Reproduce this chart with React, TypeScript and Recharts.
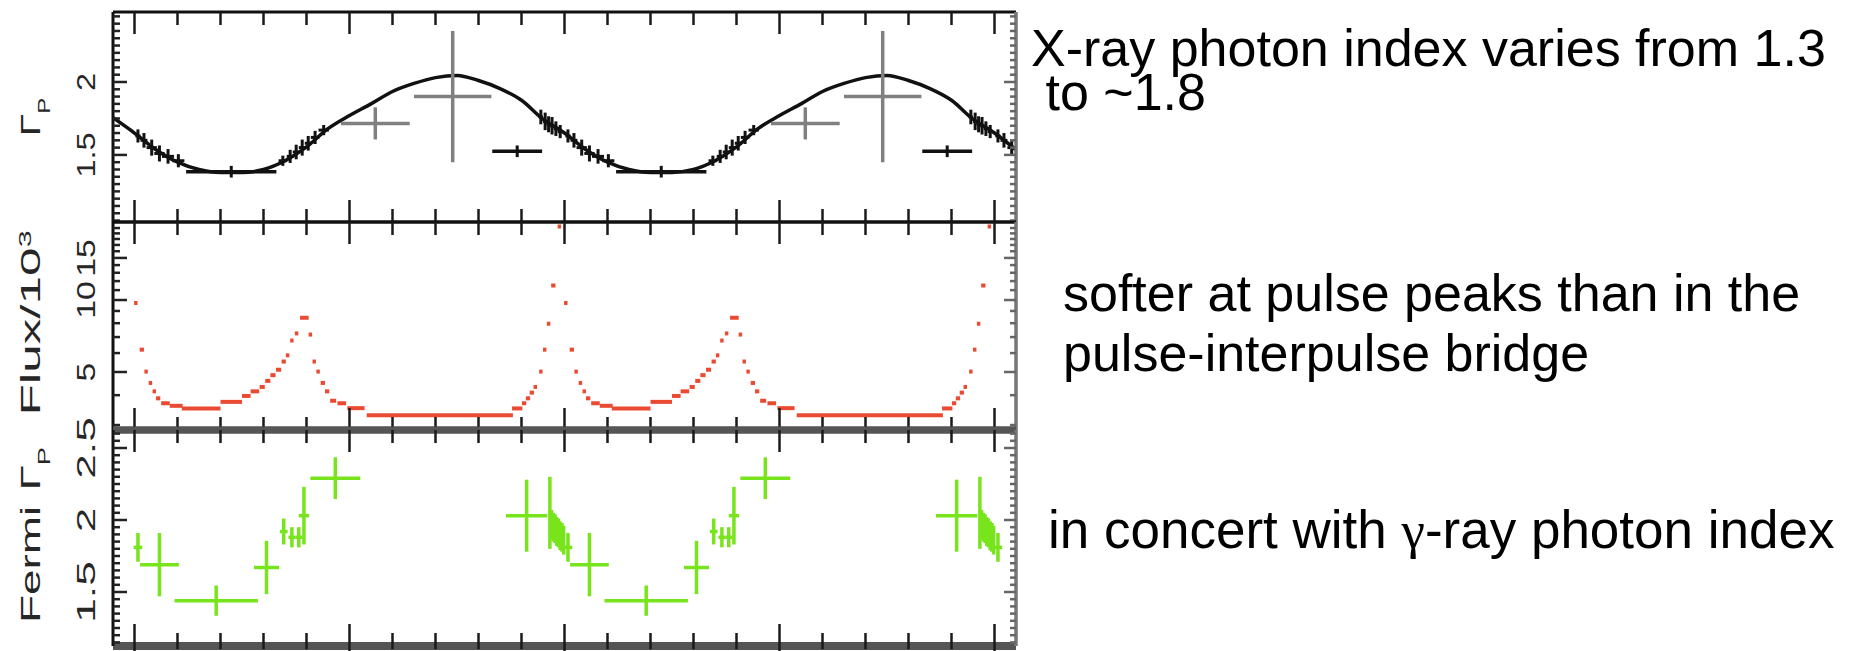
import React from 'react';
import { ComposedChart, Line, Scatter, XAxis, YAxis, ErrorBar } from 'recharts';

// ---------- data ----------
// pulse phase ticks (minor every 0.1, major every 0.5)
const PHASE_TICKS = [0, 0.1, 0.2, 0.3, 0.4, 0.5, 0.6, 0.7, 0.8, 0.9, 1.0, 1.1, 1.2, 1.3, 1.4, 1.5, 1.6, 1.7, 1.8, 1.9, 2.0];
const PHASE_DOMAIN: [number, number] = [-0.05, 2.05];

// X-ray photon index model curve: [phase, index]
const xrayCurve: [number, number][] = [
  [-0.05, 1.755], [0.0, 1.65], [0.05, 1.535], [0.1, 1.45], [0.15, 1.4], [0.2, 1.38], [0.25, 1.38], [0.3, 1.4],
  [0.35, 1.46], [0.4, 1.555], [0.45, 1.68], [0.5, 1.77], [0.55, 1.85], [0.6, 1.935], [0.65, 1.99], [0.7, 2.03],
  [0.75, 2.045], [0.8, 2.01], [0.85, 1.955], [0.9, 1.875], [0.95, 1.745], [1.0, 1.65], [1.05, 1.535], [1.1, 1.45],
  [1.15, 1.4], [1.2, 1.38], [1.25, 1.38], [1.3, 1.4], [1.35, 1.46], [1.4, 1.555], [1.45, 1.68], [1.5, 1.77],
  [1.55, 1.85], [1.6, 1.935], [1.65, 1.99], [1.7, 2.03], [1.75, 2.045], [1.8, 2.01], [1.85, 1.955], [1.9, 1.875],
  [1.95, 1.745], [2.0, 1.65], [2.05, 1.535],
];

// X-ray photon index, fine phase bins: [phase, index, phase half-width, index error]
const xrayFine: [number, number, number, number][] = [
  [0.008, 1.63, 0.006, 0.045], [0.022, 1.6, 0.008, 0.05], [0.04, 1.55, 0.012, 0.055], [0.058, 1.51, 0.012, 0.055],
  [0.078, 1.49, 0.014, 0.05], [0.102, 1.46, 0.014, 0.045],
  [0.345, 1.46, 0.01, 0.035], [0.362, 1.49, 0.008, 0.045], [0.376, 1.52, 0.008, 0.05], [0.39, 1.55, 0.008, 0.055],
  [0.404, 1.58, 0.008, 0.05], [0.42, 1.62, 0.01, 0.045], [0.44, 1.67, 0.012, 0.035],
  [0.945, 1.76, 0.005, 0.05], [0.955, 1.73, 0.005, 0.06], [0.963, 1.71, 0.005, 0.055], [0.971, 1.7, 0.005, 0.06],
  [0.98, 1.68, 0.005, 0.05], [0.99, 1.66, 0.006, 0.045],
  [1.008, 1.63, 0.006, 0.045], [1.022, 1.6, 0.008, 0.05], [1.04, 1.55, 0.012, 0.055], [1.058, 1.51, 0.012, 0.055],
  [1.078, 1.49, 0.014, 0.05], [1.102, 1.46, 0.014, 0.045],
  [1.345, 1.46, 0.01, 0.035], [1.362, 1.49, 0.008, 0.045], [1.376, 1.52, 0.008, 0.05], [1.39, 1.55, 0.008, 0.055],
  [1.404, 1.58, 0.008, 0.05], [1.42, 1.62, 0.01, 0.045], [1.44, 1.67, 0.012, 0.035],
  [1.945, 1.76, 0.005, 0.05], [1.955, 1.73, 0.005, 0.06], [1.963, 1.71, 0.005, 0.055], [1.971, 1.7, 0.005, 0.06],
  [1.98, 1.68, 0.005, 0.05], [1.99, 1.66, 0.006, 0.045],
  [2.008, 1.63, 0.006, 0.045], [2.022, 1.6, 0.008, 0.05], [2.04, 1.55, 0.01, 0.055],
];

// X-ray photon index, wide off-pulse bins (black)
const xrayWide: [number, number, number, number][] = [
  [0.225, 1.385, 0.105, 0.04], [0.89, 1.525, 0.058, 0.04],
  [1.225, 1.385, 0.105, 0.04], [1.89, 1.525, 0.058, 0.04],
];

// X-ray photon index, low-significance bins (grey)
const xrayFaint: [number, number, number, number][] = [
  [0.56, 1.716, 0.08, 0.11], [0.74, 1.9, 0.09, 0.45],
  [1.56, 1.716, 0.08, 0.11], [1.74, 1.9, 0.09, 0.45],
];

// pulse profile, Flux/10^3: [phase, flux, phase half-width]
const fluxBins: [number, number, number][] = [
  [0.003, 9.72, 0.004], [0.017, 6.2, 0.005], [0.027, 5.02, 0.004], [0.037, 4.5, 0.004], [0.046, 4.15, 0.004],
  [0.055, 3.88, 0.005], [0.072, 3.7, 0.01], [0.097, 3.61, 0.015], [0.155, 3.52, 0.045], [0.225, 3.75, 0.025],
  [0.26, 3.97, 0.01], [0.28, 4.15, 0.01], [0.297, 4.33, 0.006], [0.31, 4.59, 0.006], [0.322, 4.85, 0.006],
  [0.335, 5.11, 0.006], [0.347, 5.53, 0.005], [0.356, 5.87, 0.004], [0.366, 6.77, 0.004], [0.377, 7.25, 0.004],
  [0.395, 8.43, 0.01], [0.409, 7.17, 0.004], [0.418, 5.53, 0.004], [0.427, 5.02, 0.004], [0.438, 4.5, 0.005],
  [0.448, 4.15, 0.005], [0.462, 3.79, 0.007], [0.482, 3.7, 0.01], [0.515, 3.53, 0.02], [0.71, 3.3, 0.17],
  [0.89, 3.52, 0.012], [0.906, 3.7, 0.005], [0.915, 3.88, 0.005], [0.924, 4.1, 0.005], [0.932, 4.33, 0.004],
  [0.945, 5.02, 0.004], [0.954, 6.2, 0.004], [0.963, 7.96, 0.004], [0.974, 11.5, 0.005], [0.988, 20.3, 0.004],
  [1.003, 9.72, 0.004], [1.017, 6.2, 0.005], [1.027, 5.02, 0.004], [1.037, 4.5, 0.004], [1.046, 4.15, 0.004],
  [1.055, 3.88, 0.005], [1.072, 3.7, 0.01], [1.097, 3.61, 0.015], [1.155, 3.52, 0.045], [1.225, 3.75, 0.025],
  [1.26, 3.97, 0.01], [1.28, 4.15, 0.01], [1.297, 4.33, 0.006], [1.31, 4.59, 0.006], [1.322, 4.85, 0.006],
  [1.335, 5.11, 0.006], [1.347, 5.53, 0.005], [1.356, 5.87, 0.004], [1.366, 6.77, 0.004], [1.377, 7.25, 0.004],
  [1.395, 8.43, 0.01], [1.409, 7.17, 0.004], [1.418, 5.53, 0.004], [1.427, 5.02, 0.004], [1.438, 4.5, 0.005],
  [1.448, 4.15, 0.005], [1.462, 3.79, 0.007], [1.482, 3.7, 0.01], [1.515, 3.53, 0.02], [1.71, 3.3, 0.17],
  [1.89, 3.52, 0.012], [1.906, 3.7, 0.005], [1.915, 3.88, 0.005], [1.924, 4.1, 0.005], [1.932, 4.33, 0.004],
  [1.945, 5.02, 0.004], [1.954, 6.2, 0.004], [1.963, 7.96, 0.004], [1.974, 11.5, 0.005], [1.988, 20.3, 0.004],
];

// Fermi gamma-ray photon index: [phase, index, phase half-width, index error]
const fermiIndex: [number, number, number, number][] = [
  [0.008, 1.81, 0.01, 0.1], [0.058, 1.69, 0.045, 0.22], [0.19, 1.44, 0.097, 0.105], [0.307, 1.67, 0.029, 0.185],
  [0.347, 1.92, 0.009, 0.09], [0.366, 1.88, 0.008, 0.07], [0.382, 1.88, 0.008, 0.07], [0.394, 2.03, 0.012, 0.2],
  [0.467, 2.29, 0.058, 0.145], [0.912, 2.03, 0.048, 0.25], [0.966, 2.05, 0.004, 0.25],
  [0.97, 1.97, 0.002, 0.1], [0.974, 1.95, 0.002, 0.1], [0.978, 1.94, 0.002, 0.1], [0.982, 1.92, 0.002, 0.1],
  [0.986, 1.91, 0.002, 0.1], [0.99, 1.89, 0.002, 0.1], [0.994, 1.88, 0.002, 0.1], [0.998, 1.86, 0.002, 0.1],
  [1.008, 1.81, 0.01, 0.1], [1.058, 1.69, 0.045, 0.22], [1.19, 1.44, 0.097, 0.105], [1.307, 1.67, 0.029, 0.185],
  [1.347, 1.92, 0.009, 0.09], [1.366, 1.88, 0.008, 0.07], [1.382, 1.88, 0.008, 0.07], [1.394, 2.03, 0.012, 0.2],
  [1.467, 2.29, 0.058, 0.145], [1.912, 2.03, 0.048, 0.25], [1.966, 2.05, 0.004, 0.25],
  [1.97, 1.97, 0.002, 0.1], [1.974, 1.95, 0.002, 0.1], [1.978, 1.94, 0.002, 0.1], [1.982, 1.92, 0.002, 0.1],
  [1.986, 1.91, 0.002, 0.1], [1.99, 1.89, 0.002, 0.1], [1.994, 1.88, 0.002, 0.1], [1.998, 1.86, 0.002, 0.1],
  [2.008, 1.81, 0.01, 0.1],
];

// y-axis ticks and labels for each panel
const XRAY_DOMAIN: [number, number] = [1.04, 2.48];
const XRAY_TICKS = [1.05, 1.1, 1.15, 1.2, 1.25, 1.3, 1.35, 1.4, 1.45, 1.5, 1.55, 1.6, 1.65, 1.7, 1.75, 1.8, 1.85, 1.9, 1.95, 2, 2.05, 2.1, 2.15, 2.2, 2.25, 2.3, 2.35, 2.4, 2.45];
const XRAY_LABELS = [1.5, 2];

const FLUX_DOMAIN: [number, number] = [2.86, 21.2];
const FLUX_TICKS = [3, 4, 5, 6, 7, 8, 9, 10, 11, 12, 13, 14, 15, 16, 17, 18, 19, 20];
const FLUX_LABELS = [5, 10, 15];

const FERMI_DOMAIN: [number, number] = [1.125, 2.625];
const FERMI_TICKS = [1.15, 1.2, 1.25, 1.3, 1.35, 1.4, 1.45, 1.5, 1.55, 1.6, 1.65, 1.7, 1.75, 1.8, 1.85, 1.9, 1.95, 2, 2.05, 2.1, 2.15, 2.2, 2.25, 2.3, 2.35, 2.4, 2.45, 2.5, 2.55, 2.6];
const FERMI_LABELS = [1.5, 2, 2.5];

// side notes
const NOTE_XRAY = 'X-ray photon index varies from 1.3\n to ~1.8';
const NOTE_FLUX = 'softer at pulse peaks than in the\npulse-interpulse bridge';
const NOTE_FERMI_A = 'in concert with ';
const NOTE_FERMI_GAMMA = 'γ';
const NOTE_FERMI_B = '-ray photon index';

// ---------- layout ----------
const W = 1859;
const H = 651;
const PLOT_LEFT = 113;
const PLOT_RIGHT = 1016;
const AXIS_SIZE = 1;
const FONT = '"Liberation Sans", Arial, Helvetica, sans-serif';
const TICK_LABEL_X = 95; // baseline of the rotated tick labels
const TITLE_X = 39.5; // baseline of the rotated axis titles

const toErr = (rows: [number, number, number, number][]) => rows.map(([x, y, ex, ey]) => ({ x, y, ex, ey }));
const curveRows = xrayCurve.map(([x, y]) => ({ x, y }));
const fineRows = toErr(xrayFine);
const wideRows = toErr(xrayWide);
const faintRows = toErr(xrayFaint);
const fluxRows = fluxBins.map(([x, y, ex]) => ({ x, y, ex }));
const fermiRows = toErr(fermiIndex);

const near = (a: number, b: number) => Math.abs(a - b) < 1e-6;

// phase tick marks along a horizontal border; dirs: -1 = up, +1 = down (fractions shorten)
const phaseTick = (dirs: number[], color: string) => (props: any) => {
  const { x, y, payload } = props;
  const v = payload.value as number;
  const major = near(v * 2, Math.round(v * 2));
  const len = major ? 22 : 13;
  return (
    <g>
      {dirs.map((d, i) => (
        <line key={i} x1={x} x2={x} y1={y} y2={y + d * len} stroke={color} strokeWidth={2.5} />
      ))}
    </g>
  );
};

// rotated text, stretched along its reading direction
const rotated = (tx: number, cy: number, stretch: number, fontSize: number, children: React.ReactNode) => (
  <text
    x={0}
    y={0}
    transform={`translate(${tx} ${cy}) rotate(-90) scale(${stretch} 1)`}
    textAnchor="middle"
    fontFamily={FONT}
    fontSize={fontSize}
    fill="#262626"
  >
    {children}
  </text>
);

// left value ticks (pointing into the plot) with rotated labels
const leftTick = (labels: number[], stretch: number) => (props: any) => {
  const { x, y, payload } = props;
  const v = payload.value as number;
  const labelled = labels.some((l) => near(l, v));
  const len = labelled ? 14 : 7;
  return (
    <g>
      <line x1={x} x2={x + len} y1={y} y2={y} stroke="#222" strokeWidth={2.5} />
      {labelled && rotated(TICK_LABEL_X, y, stretch, 26, String(v))}
    </g>
  );
};

// right value ticks (pointing into the plot)
const rightTick = (labels: number[]) => (props: any) => {
  const { x, y, payload } = props;
  const v = payload.value as number;
  const labelled = labels.some((l) => near(l, v));
  const len = labelled ? 12 : 6;
  return <line x1={x} x2={x - len} y1={y} y2={y} stroke="#666" strokeWidth={2.5} />;
};

// rotated axis title: optional leading word, a main symbol and a sub- or superscript
const axisTitle = (lead: string, main: string, script: string, sup: boolean, cy: number, stretch: number) => () =>
  rotated(
    TITLE_X,
    cy,
    stretch,
    27,
    <>
      {lead && <tspan>{lead}</tspan>}
      <tspan dx={lead ? 9 : 0}>{main}</tspan>
      <tspan fontSize={16} dy={sup ? -9 : 10.5}>{script}</tspan>
    </>
  );

const none = () => <g />;

type PanelProps = { top: number; bottom: number };
const margins = ({ top, bottom }: PanelProps) => ({
  top: top - AXIS_SIZE,
  bottom: H - bottom - AXIS_SIZE,
  left: PLOT_LEFT - AXIS_SIZE,
  right: W - PLOT_RIGHT - AXIS_SIZE,
});

const phaseAxes = (topColor: string, topWidth: number, botColor: string, botWidth: number, topDirs: number[], botDirs: number[]) => [
  <XAxis
    key="b"
    xAxisId="b"
    type="number"
    dataKey="x"
    orientation="bottom"
    domain={PHASE_DOMAIN}
    allowDataOverflow
    ticks={PHASE_TICKS}
    interval={0}
    height={AXIS_SIZE}
    tickSize={0}
    tickMargin={0}
    tickLine={false}
    axisLine={{ stroke: botColor, strokeWidth: botWidth }}
    tick={phaseTick(botDirs, '#1a1a1a')}
  />,
  <XAxis
    key="t"
    xAxisId="t"
    type="number"
    dataKey="x"
    orientation="top"
    domain={PHASE_DOMAIN}
    allowDataOverflow
    ticks={PHASE_TICKS}
    interval={0}
    height={AXIS_SIZE}
    tickSize={0}
    tickMargin={0}
    tickLine={false}
    axisLine={{ stroke: topColor, strokeWidth: topWidth }}
    tick={phaseTick(topDirs, '#1a1a1a')}
  />,
];

const valueAxes = (
  domain: [number, number],
  ticks: number[],
  labels: number[],
  stretch: number,
  title: () => React.ReactElement,
  scale: 'linear' | 'log' = 'linear'
) => [
  <YAxis
    key="l"
    yAxisId="l"
    type="number"
    dataKey="y"
    scale={scale}
    domain={domain}
    allowDataOverflow
    ticks={ticks}
    interval={0}
    width={AXIS_SIZE}
    tickSize={0}
    tickMargin={0}
    tickLine={false}
    axisLine={{ stroke: '#111', strokeWidth: 3 }}
    tick={leftTick(labels, stretch)}
    label={title}
  />,
  <YAxis
    key="r"
    yAxisId="r"
    orientation="right"
    type="number"
    scale={scale}
    domain={domain}
    allowDataOverflow
    ticks={ticks}
    interval={0}
    width={AXIS_SIZE}
    tickSize={0}
    tickMargin={0}
    tickLine={false}
    axisLine={{ stroke: '#777', strokeWidth: 3.5 }}
    tick={rightTick(labels)}
  />,
];

const XRAY_PANEL = { top: 12, bottom: 222 };
const FLUX_PANEL = { top: 222, bottom: 430 };
const FERMI_PANEL = { top: 430, bottom: 646 };

const layer: React.CSSProperties = { position: 'absolute', left: 0, top: 0 };

const noteStyle: React.CSSProperties = {
  position: 'absolute',
  fontFamily: FONT,
  fontSize: 52,
  color: '#000',
  whiteSpace: 'pre',
};

export default function App() {
  return (
    <div style={{ position: 'absolute', left: 0, top: 0, width: W, height: H, background: '#fff', overflow: 'hidden' }}>
      {/* X-ray photon index */}
      <div style={layer}>
        <ComposedChart width={W} height={H} margin={margins(XRAY_PANEL)}>
          {phaseAxes('#111', 3, '#111', 3, [1], [-1])}
          {valueAxes(XRAY_DOMAIN, XRAY_TICKS, XRAY_LABELS, 1.25, axisTitle('', 'Γ', 'P', false, 117, 1.5))}
          <Line
            xAxisId="b"
            yAxisId="l"
            data={curveRows}
            dataKey="y"
            type="monotone"
            stroke="#111"
            strokeWidth={3.5}
            dot={false}
            isAnimationActive={false}
          />
          <Scatter xAxisId="b" yAxisId="l" data={faintRows} dataKey="y" shape={none} isAnimationActive={false}>
            <ErrorBar dataKey="ex" direction="x" width={0} stroke="#808080" strokeWidth={3.5} />
            <ErrorBar dataKey="ey" direction="y" width={0} stroke="#808080" strokeWidth={3.5} />
          </Scatter>
          <Scatter xAxisId="b" yAxisId="l" data={wideRows} dataKey="y" shape={none} isAnimationActive={false}>
            <ErrorBar dataKey="ex" direction="x" width={0} stroke="#111" strokeWidth={3.5} />
            <ErrorBar dataKey="ey" direction="y" width={0} stroke="#111" strokeWidth={3} />
          </Scatter>
          <Scatter xAxisId="b" yAxisId="l" data={fineRows} dataKey="y" shape={none} isAnimationActive={false}>
            <ErrorBar dataKey="ex" direction="x" width={0} stroke="#111" strokeWidth={3} />
            <ErrorBar dataKey="ey" direction="y" width={0} stroke="#111" strokeWidth={3} />
          </Scatter>
        </ComposedChart>
      </div>

      {/* pulse profile */}
      <div style={layer}>
        <ComposedChart width={W} height={H} margin={margins(FLUX_PANEL)}>
          {phaseAxes('#111', 3, '#555', 7, [1], [-1])}
          {valueAxes(FLUX_DOMAIN, FLUX_TICKS, FLUX_LABELS, 1.3, axisTitle('', 'Flux/10', '3', true, 323, 1.9), 'log')}
          <Scatter xAxisId="b" yAxisId="l" data={fluxRows} dataKey="y" shape={none} isAnimationActive={false}>
            <ErrorBar dataKey="ex" direction="x" width={0} stroke="#ea4a32" strokeWidth={4} />
          </Scatter>
        </ComposedChart>
      </div>

      {/* Fermi photon index */}
      <div style={layer}>
        <ComposedChart width={W} height={H} margin={margins(FERMI_PANEL)}>
          {phaseAxes('#555', 7, '#555', 8, [1], [-1, 0.25])}
          {valueAxes(FERMI_DOMAIN, FERMI_TICKS, FERMI_LABELS, 1.7, axisTitle('Fermi', 'Γ', 'P', false, 535, 1.7))}
          <Scatter xAxisId="b" yAxisId="l" data={fermiRows} dataKey="y" shape={none} isAnimationActive={false}>
            <ErrorBar dataKey="ex" direction="x" width={0} stroke="#78e41c" strokeWidth={3.5} />
            <ErrorBar dataKey="ey" direction="y" width={0} stroke="#78e41c" strokeWidth={3.5} />
          </Scatter>
        </ComposedChart>
      </div>

      <div style={{ ...noteStyle, lineHeight: '44px', left: 1031, top: 26 }}>{NOTE_XRAY}</div>
      <div style={{ ...noteStyle, lineHeight: '60px', left: 1063, top: 263 }}>{NOTE_FLUX}</div>
      <div style={{ ...noteStyle, fontSize: 53, lineHeight: '42px', left: 1048, top: 509 }}>
        {NOTE_FERMI_A}
        <span style={{ fontFamily: '"Liberation Serif", "DejaVu Serif", serif' }}>{NOTE_FERMI_GAMMA}</span>
        {NOTE_FERMI_B}
      </div>
    </div>
  );
}
